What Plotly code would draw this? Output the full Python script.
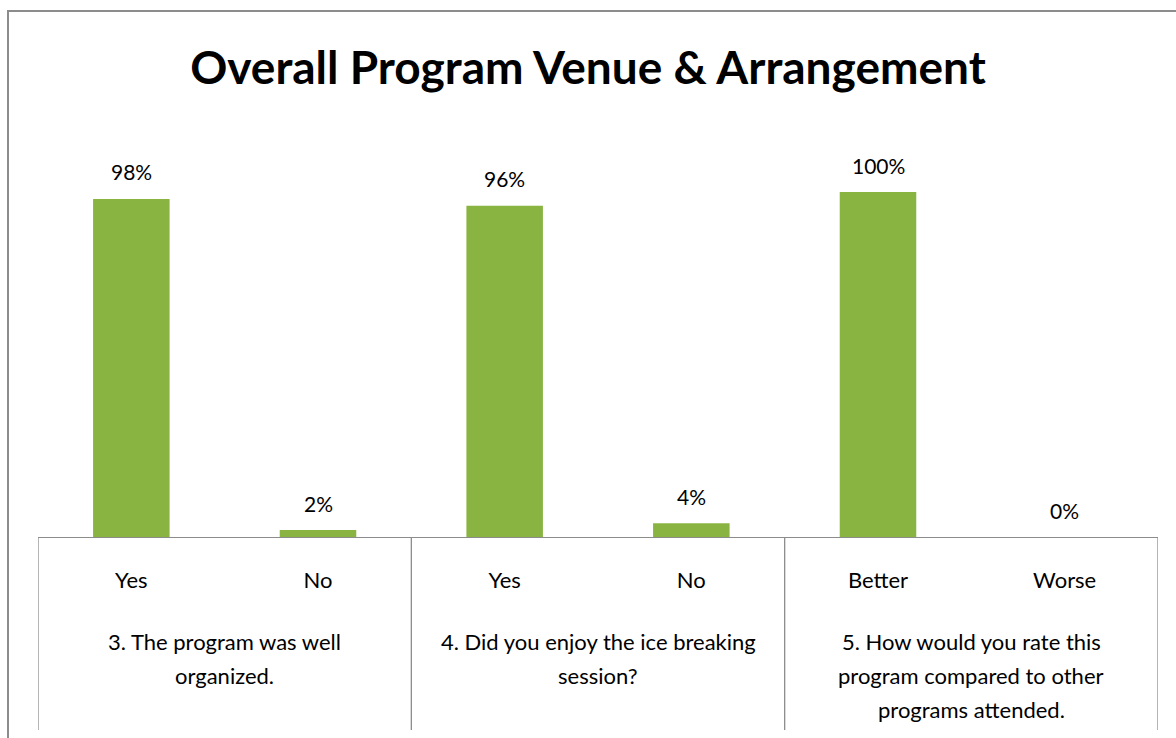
import plotly.graph_objects as go

categories = ["Yes", "No", "Yes", "No", "Better", "Worse"]
values = [0.98, 0.02, 0.96, 0.04, 1.00, 0.00]
value_labels = ["98%", "2%", "96%", "4%", "100%", "0%"]
groups = [
    ["3. The program was well", "organized."],
    ["4. Did you enjoy the ice breaking", "session?"],
    ["5. How would you rate this", "program compared to other", "programs attended."],
]
group_size = 2
title = "Overall Program Venue & Arrangement"

FONT = "Lato"
W, H = 1176, 738
ML, MR, MT, MB = 38, 18, 100, 201
plot_h = H - MT - MB

xs = list(range(len(categories)))

fig = go.Figure()
fig.add_trace(go.Bar(
    x=xs, y=values, width=0.41,
    marker=dict(color="#8ab442", line=dict(width=0)),
    hoverinfo="skip",
))

# value labels above bars
for x, v, lab in zip(xs, values, value_labels):
    fig.add_annotation(x=x, y=v, xref="x", yref="y", text=lab, showarrow=False,
                       yanchor="middle", yshift=27,
                       font=dict(family=FONT, size=21, color="#000000"))

# group labels and dividers
for gi, lines in enumerate(groups):
    center = gi * group_size + (group_size - 1) / 2
    for li, line in enumerate(lines):
        fig.add_annotation(x=center, y=-(104 + 34 * li) / plot_h, xref="x", yref="paper",
                           text=line, showarrow=False, yanchor="middle", align="center",
                           font=dict(family=FONT, size=22, color="#000000"))
for k in range(len(groups) + 1):
    xb = k * group_size - 0.5
    fig.add_shape(type="line", xref="x", yref="paper", x0=xb, x1=xb,
                  y0=0, y1=-193 / plot_h, line=dict(color="#8c8c8c", width=1.3))

# outer chart border (partially cropped)
fig.add_shape(type="rect", xref="paper", yref="paper",
              x0=(8 - ML) / (W - ML - MR), x1=1.2,
              y0=-0.8, y1=(H - MB - 11) / plot_h,
              line=dict(color="#8c8c8c", width=2), fillcolor="rgba(0,0,0,0)")

fig.update_layout(
    width=W, height=H,
    margin=dict(l=ML, r=MR, t=MT, b=MB),
    paper_bgcolor="white", plot_bgcolor="white",
    showlegend=False,
    title=dict(text="<b>" + title + "</b>", x=0.5, xanchor="center",
               y=1 - 68 / H, yanchor="middle",
               font=dict(family=FONT, size=46, color="#000000")),
    xaxis=dict(range=[-0.5, len(categories) - 0.5], tickmode="array",
               tickvals=xs, ticktext=categories, showline=True,
               linecolor="#8c8c8c", linewidth=1.3, showgrid=False, zeroline=False,
               ticks="outside", ticklen=23, tickcolor="rgba(0,0,0,0)",
               tickfont=dict(family=FONT, size=22, color="#000000")),
    yaxis=dict(range=[0, (H - MT - MB) / 345], visible=False, showgrid=False,
               zeroline=False),
)

fig.write_html("out.html", config={"displayModeBar": False},
               post_script="document.body.style.margin='0';document.body.style.overflow='hidden';")
